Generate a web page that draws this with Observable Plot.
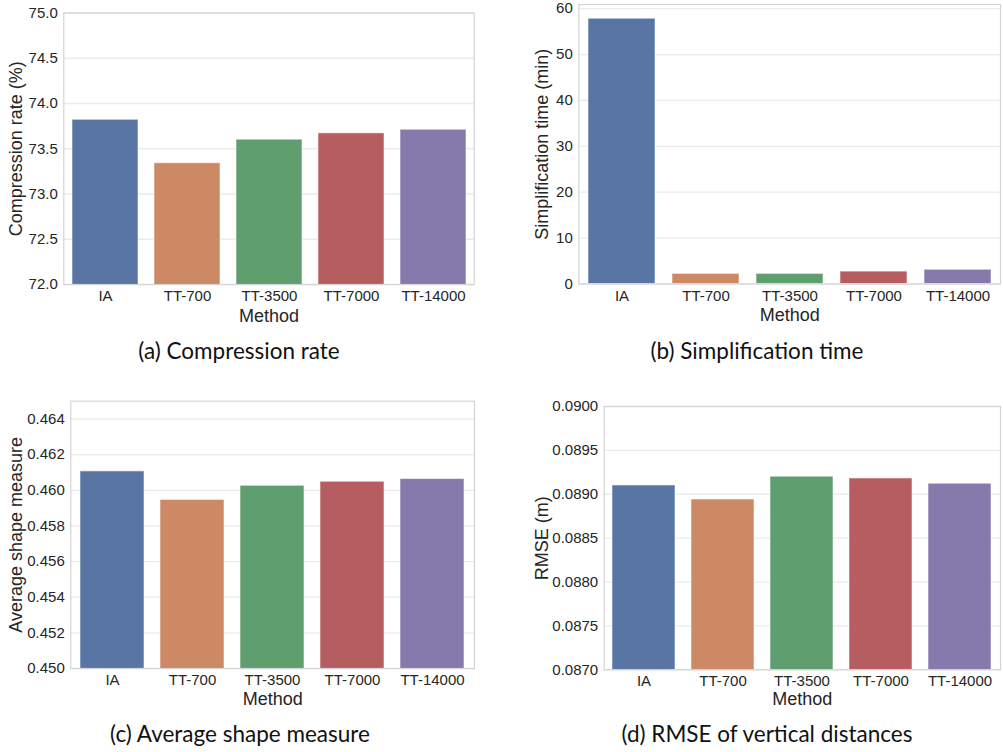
<!DOCTYPE html>
<html>
<head>
<meta charset="utf-8">
<script src="https://cdn.jsdelivr.net/npm/d3@7"></script>
<script src="https://cdn.jsdelivr.net/npm/@observablehq/plot@0.6"></script>
<style>
  html, body { margin: 0; padding: 0; background: white; }
  #root { position: relative; width: 1003px; height: 752px; overflow: hidden; background: white; }
  .panel { position: absolute; }
  .caption { position: absolute; font-family: "Lato", "Noto Sans", sans-serif; font-size: 22.5px; color: #111; white-space: nowrap; transform: translateX(-50%); }
  svg text { font-family: "Liberation Sans", Arial, sans-serif; }
  [aria-label="x-axis tick label"], [aria-label="y-axis tick label"] { font-size: 15px; }
  [aria-label="x-axis label"], [aria-label="y-axis label"] { font-size: 18px; }
</style>
</head>
<body>
<div id="root"></div>
<script>
const methods = ["IA", "TT-700", "TT-3500", "TT-7000", "TT-14000"];
const colors = ["#5875a4", "#cc8963", "#5f9e6e", "#b55d60", "#857aab"];

const compressionRate = [73.82, 73.34, 73.60, 73.67, 73.71];
const simplificationTime = [57.8, 2.2, 2.2, 2.7, 3.1];
const shapeMeasure = [0.46106, 0.45946, 0.46025, 0.46048, 0.46063];
const rmse = [0.08910, 0.08894, 0.08920, 0.08918, 0.08912];

const compressionTicks = [72.0, 72.5, 73.0, 73.5, 74.0, 74.5, 75.0];
const timeTicks = [0, 10, 20, 30, 40, 50, 60];
const shapeTicks = [0.450, 0.452, 0.454, 0.456, 0.458, 0.460, 0.462, 0.464];
const rmseTicks = [0.0870, 0.0875, 0.0880, 0.0885, 0.0890, 0.0895, 0.0900];

const captions = ["(a) Compression rate", "(b) Simplification time", "(c) Average shape measure", "(d) RMSE of vertical distances"];

const panels = [
  {values: compressionRate, domain: [72, 75], ticks: compressionTicks, fmt: ".1f", label: "Compression rate (%)",
   left: 0, top: 0, width: 480, height: 330, m: [12.5, 6.3, 46, 63.3], ylo: 54.5, xlo: 37, cap: [239, 337]},
  {values: simplificationTime, domain: [0, 60.9], ticks: timeTicks, fmt: "d", label: "Simplification time (min)",
   left: 500, top: 0, width: 503, height: 330, m: [4, 3, 46.5, 78.3], ylo: 43.2, xlo: 37, cap: [757, 337]},
  {values: shapeMeasure, domain: [0.450, 0.465], ticks: shapeTicks, fmt: ".3f", label: "Average shape measure",
   left: 0, top: 380, width: 480, height: 330, m: [20.7, 6, 42, 70.3], ylo: 61.5, xlo: 36, cap: [240, 720]},
  {values: rmse, domain: [0.0870, 0.0900], ticks: rmseTicks, fmt: ".4f", label: "RMSE (m)",
   left: 500, top: 380, width: 503, height: 330, m: [26, 3, 40.7, 103.7], ylo: 68.5, xlo: 35, cap: [767, 720]}
];

const root = document.getElementById("root");

panels.forEach((p, i) => {
  const data = methods.map((method, j) => ({method, value: p.values[j], color: colors[j]}));
  const chart = Plot.plot({
    width: p.width,
    height: p.height,
    marginTop: p.m[0],
    marginRight: p.m[1],
    marginBottom: p.m[2],
    marginLeft: p.m[3],
    style: {fontFamily: "'Liberation Sans', Arial, sans-serif", fontSize: "15px", color: "#262626", background: "white", overflow: "visible"},
    x: {domain: methods, paddingInner: 0.2, paddingOuter: 0.1},
    y: {domain: p.domain},
    marks: [
      Plot.gridY(p.ticks, {stroke: "#ebebeb", strokeOpacity: 1, strokeWidth: 1.3}),
      Plot.barY(data, {x: "method", y: "value", fill: "color", stroke: "white", strokeWidth: 1, strokeOpacity: 0.55, clip: true}),
      Plot.frame({stroke: "#d4d4d4", strokeWidth: 1.2}),
      Plot.axisX({tickSize: 0, tickPadding: 6, fontSize: 15, label: "Method", labelAnchor: "center", labelOffset: p.xlo, labelArrow: "none"}),
      Plot.axisY(p.ticks, {tickSize: 0, tickPadding: 6, fontSize: 15, tickFormat: d3.format(p.fmt), label: p.label, labelAnchor: "center", labelOffset: p.ylo, labelArrow: "none"})
    ]
  });
  const div = document.createElement("div");
  div.className = "panel";
  div.style.left = p.left + "px";
  div.style.top = p.top + "px";
  div.appendChild(chart);
  root.appendChild(div);

  const cap = document.createElement("div");
  cap.className = "caption";
  cap.textContent = captions[i];
  cap.style.left = p.cap[0] + "px";
  cap.style.top = p.cap[1] + "px";
  root.appendChild(cap);
});
</script>
</body>
</html>
